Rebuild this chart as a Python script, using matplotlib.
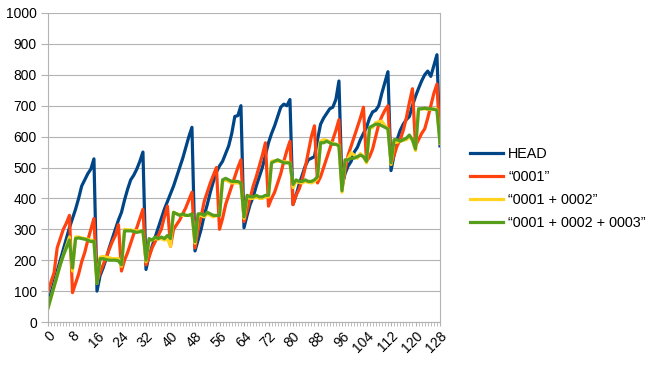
import numpy as np
import matplotlib
matplotlib.use("Agg")
import matplotlib.pyplot as plt
from matplotlib.ticker import MultipleLocator

plt.rcParams['font.family'] = ['Liberation Sans', 'DejaVu Sans']

# series values (index 0..128)
head = [
    60, 95, 130, 165, 200, 235, 270, 305, 335, 365, 400, 440, 460, 480, 495, 528,
    100, 150, 175, 205, 240, 270, 300, 330, 355, 395, 430, 460, 475, 495, 520, 550,
    170, 215, 245, 275, 305, 335, 365, 390, 415, 440, 470, 500, 530, 565, 600, 630,
    230, 265, 300, 345, 380, 420, 455, 485, 505, 520, 545, 570, 610, 665, 668, 700,
    305, 345, 380, 405, 440, 470, 500, 540, 580, 610, 635, 665, 695, 705, 700, 720,
    380, 410, 445, 475, 505, 525, 530, 535, 590, 640, 660, 675, 690, 695, 720, 780,
    440, 480, 505, 520, 550, 565, 590, 610, 630, 660, 680, 685, 700, 740, 775, 810,
    490, 540, 590, 620, 640, 655, 665, 700, 730, 756, 780, 800, 812, 795, 830, 865,
    570,
]
p0001 = [
    100, 130, 160, 240, 270, 300, 320, 345,
    95, 125, 155, 195, 225, 265, 300, 335,
    130, 160, 185, 210, 235, 260, 280, 315,
    165, 200, 225, 255, 285, 305, 335, 365,
    185, 210, 240, 260, 280, 300, 340, 375,
    245, 300, 315, 330, 350, 370, 395, 420,
    240, 300, 340, 390, 420, 450, 475, 500,
    300, 335, 380, 410, 440, 470, 500, 525,
    325, 360, 400, 440, 470, 505, 540, 580,
    375, 400, 420, 450, 480, 520, 555, 585,
    380, 410, 430, 460, 500, 550, 600, 635,
    450, 470, 500, 530, 560, 590, 620, 655,
    430, 490, 540, 570, 600, 630, 660, 695,
    520, 535, 560, 600, 640, 665, 685, 700,
    510, 540, 570, 590, 620, 660, 710, 755,
    570, 590, 610, 625, 660, 700, 740, 770,
    590,
]
p0001_0002 = [
    45, 80, 115, 150, 185, 215, 245, 275,
    165, 275, 275, 272, 270, 268, 265, 262,
    125, 210, 212, 210, 208, 205, 205, 205,
    180, 300, 298, 298, 296, 295, 295, 290,
    195, 265, 265, 270, 268, 270, 265, 270,
    245, 355, 350, 348, 345, 345, 345, 348,
    255, 345, 345, 340, 350, 345, 340, 345,
    345, 455, 460, 455, 450, 450, 450, 448,
    335, 405, 400, 400, 405, 400, 400, 405,
    405, 520, 522, 520, 520, 518, 518, 515,
    435, 455, 452, 450, 455, 452, 450, 455,
    465, 585, 590, 588, 582, 578, 575, 572,
    420, 520, 530, 548, 540, 530, 545, 535,
    515, 625, 630, 645, 648, 650, 635, 625,
    510, 580, 582, 585, 588, 590, 600, 588,
    555, 688, 690, 690, 688, 688, 690, 688,
    578,
]
p0001_0002_0003 = [
    45, 80, 115, 150, 185, 215, 240, 265,
    175, 270, 272, 270, 268, 265, 260, 262,
    125, 205, 205, 202, 200, 200, 200, 198,
    185, 295, 295, 295, 293, 290, 292, 295,
    200, 270, 265, 275, 270, 275, 270, 280,
    270, 355, 350, 345, 350, 345, 345, 350,
    260, 350, 350, 345, 355, 350, 345, 345,
    345, 460, 465, 460, 455, 455, 455, 450,
    340, 410, 405, 405, 410, 405, 405, 410,
    410, 515, 520, 525, 520, 515, 515, 515,
    445, 460, 455, 455, 460, 455, 455, 460,
    470, 580, 580, 585, 580, 575, 575, 570,
    425, 525, 525, 530, 530, 535, 540, 535,
    520, 630, 635, 640, 640, 635, 630, 625,
    515, 590, 590, 585, 590, 595, 605, 590,
    560, 690, 690, 692, 690, 690, 688, 686,
    580,
]
labels = ["HEAD", "\u201c0001\u201d", "\u201c0001 + 0002\u201d",
          "\u201c0001 + 0002 + 0003\u201d"]
colors = ["#004586", "#ff420e", "#ffd320", "#579d1c"]

x = np.arange(len(head))

fig = plt.figure(figsize=(6.61, 3.72), dpi=100)
ax = fig.add_axes([48 / 661, 1 - 322 / 372, 392 / 661, 309 / 372])

for series, lab, col in zip([head, p0001, p0001_0002, p0001_0002_0003], labels, colors):
    ax.plot(x, series, color=col, lw=2.3, label=lab, solid_joinstyle='round')

ax.set_xlim(0, 128)
ax.set_ylim(0, 1000)
ax.yaxis.set_major_locator(MultipleLocator(100))
ax.xaxis.set_major_locator(MultipleLocator(8))
ax.xaxis.set_minor_locator(MultipleLocator(1))
ax.grid(axis='y', color='#b3b3b3', lw=0.8)
ax.set_axisbelow(True)
for s in ['left', 'bottom', 'right']:
    ax.spines[s].set_color('#b3b3b3')
ax.spines['top'].set_visible(False)
ax.tick_params(axis='y', colors='#b3b3b3', labelcolor='black', length=5, labelsize=10, pad=3)
ax.tick_params(axis='x', which='both', colors='#b3b3b3', labelcolor='black', length=3,
               labelsize=10, pad=2)
plt.setp(ax.get_xticklabels(), rotation=45, ha='right', rotation_mode='anchor')

fig.legend(loc='upper left', bbox_to_anchor=(470 / 661, 1 - 147 / 372), frameon=False,
           fontsize=10.4, handlelength=2.3, handletextpad=0.35, labelspacing=0.62,
           borderaxespad=0, borderpad=0)

fig.savefig("out.png", dpi=100)
